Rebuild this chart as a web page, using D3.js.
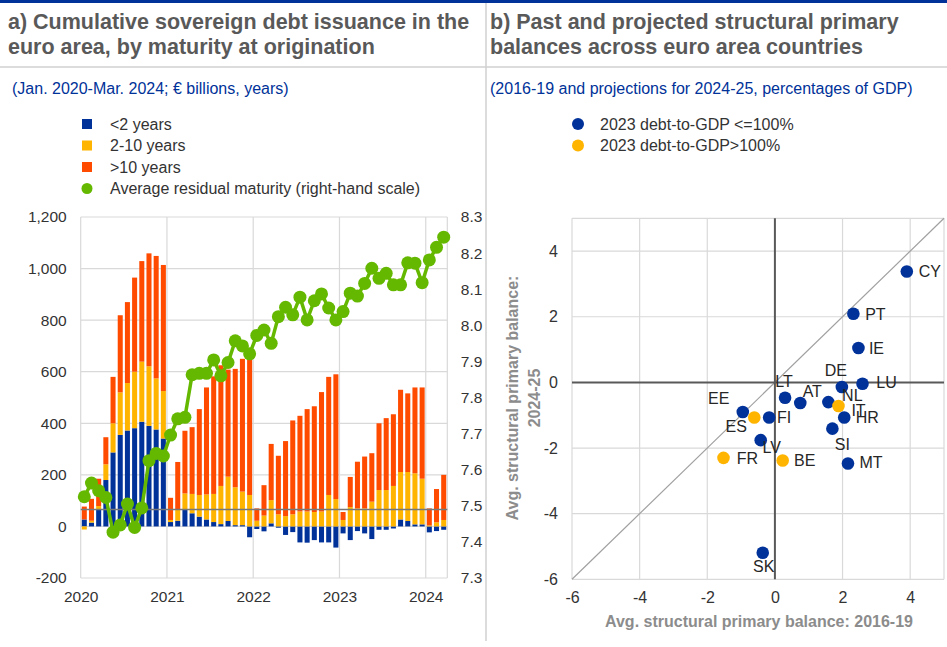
<!DOCTYPE html>
<html>
<head>
<meta charset="utf-8">
<script src="https://cdn.jsdelivr.net/npm/d3@7"></script>
<style>
body { margin: 0; background: #fff; }
text { font-family: "Liberation Sans", Arial, sans-serif; }
</style>
</head>
<body>
<svg id="chart" width="947" height="647"></svg>
<script>
// ---- panel a data (Jan 2020 - Mar 2024, monthly) ----
const yearLabels = ["2020", "2021", "2022", "2023", "2024"];
const months = d3.timeMonth.range(new Date(2020, 0, 1), new Date(2024, 3, 1));

const shortTerm = [27, 15, 66, 180, 287, 355, 372, 381, 406, 390, 376, 341,
                   17, 22, 64, 51, 38, 27, 17, 9, 21, 5, 5, -42,
                   -10, -19, 12, -5, -33, -22, -62, -63, -53, -62, -62, -82,
                   -27, -53, -18, -27, -49, -13, -13, -8, 27, 21, 8, 8,
                   -23, -18, -13];
const midTerm = [-12, 7, 13, 61, 113, 165, 184, 219, 233, 231, 198, 184,
                 8, 42, 64, 75, 84, 97, 109, 148, 172, 147, 130, 122,
                 22, 42, 90, 47, 40, 47, 58, 58, 56, 58, 122, 106,
                 25, 75, 70, 70, 96, 141, 141, 157, 184, 190, 198, 177,
                 4, 16, 25];
const longTerm = [50, 85, 106, 105, 180, 299, 314, 365, 390, 438, 475, 489,
                  86, 186, 243, 259, 333, 415, 456, 468, 415, 459, 515, 528,
                  48, 118, 218, 227, 291, 364, 371, 397, 410, 463, 458, 484,
                  31, 117, 181, 201, 188, 259, 279, 278, 319, 305, 333, 354,
                  66, 129, 175];
const avgMaturity = [7.525, 7.563, 7.542, 7.523, 7.427, 7.447, 7.505, 7.440, 7.494, 7.625, 7.645, 7.638,
                     7.696, 7.741, 7.745, 7.863, 7.867, 7.867, 7.904, 7.860, 7.897, 7.957, 7.943, 7.921,
                     7.972, 7.987, 7.950, 8.024, 8.050, 8.029, 8.078, 8.015, 8.068, 8.087, 8.048, 8.015,
                     8.038, 8.089, 8.081, 8.116, 8.158, 8.130, 8.144, 8.112, 8.112, 8.173, 8.172, 8.118,
                     8.181, 8.216, 8.244];
const refMaturity = 7.49;
const leftTicks = [-200, 0, 200, 400, 600, 800, 1000, 1200];
const rightTicks = [7.3, 7.4, 7.5, 7.6, 7.7, 7.8, 7.9, 8.0, 8.1, 8.2, 8.3];
const seriesNames = ["<2 years", "2-10 years", ">10 years", "Average residual maturity (right-hand scale)"];

// ---- panel b data ----
const countries = ["CY", "PT", "IE", "LU", "DE", "LT", "AT", "NL", "IT", "HR", "SI", "MT", "EE", "ES", "FI", "LV", "FR", "BE", "SK"];
const balance1619 = [3.90, 2.32, 2.47, 2.59, 1.98, 0.30, 0.75, 1.58, 1.88, 2.05, 1.70, 2.16, -0.95, -0.61, -0.17, -0.42, -1.52, 0.23, -0.36];
const balance2425 = [3.38, 2.09, 1.05, -0.04, -0.14, -0.47, -0.63, -0.60, -0.72, -1.07, -1.41, -2.47, -0.90, -1.07, -1.07, -1.76, -2.30, -2.38, -5.19];
const highDebt = ["IT", "ES", "FR", "BE"];
const scatterTicks = [-6, -4, -2, 0, 2, 4];
const debtGroups = ["2023 debt-to-GDP <=100%", "2023 debt-to-GDP>100%"];

// colours
const blue = "#003299", yellow = "#FFB400", orange = "#FF4B00", green = "#65B800";
const gridCol = "#d9d9d9", tickCol = "#333333";

const svg = d3.select("#chart");

// frame: top bar, separators
svg.append("rect").attr("x", 0).attr("y", 0).attr("width", 947).attr("height", 3).attr("fill", blue);
svg.append("line").attr("x1", 0).attr("x2", 947).attr("y1", 67).attr("y2", 67)
    .attr("stroke", "#d0d0d0").attr("stroke-width", 1.5);
svg.append("line").attr("x1", 486).attr("x2", 486).attr("y1", 3).attr("y2", 641)
    .attr("stroke", "#d0d0d0").attr("stroke-width", 1.5);

function title(x, lines) {
    lines.forEach(function(t, i) {
        svg.append("text").attr("x", x).attr("y", 29 + i * 25)
            .attr("font-size", 21.5).attr("font-weight", "bold").attr("fill", "#595959").text(t);
    });
}
title(8, ["a) Cumulative sovereign debt issuance in the", "euro area, by maturity at origination"]);
title(490, ["b) Past and projected structural primary", "balances across euro area countries"]);

svg.append("text").attr("x", 12).attr("y", 94).attr("font-size", 16).attr("fill", blue)
    .text("(Jan. 2020-Mar. 2024; \u20ac billions, years)");
svg.append("text").attr("x", 490).attr("y", 94).attr("font-size", 16).attr("fill", blue)
    .text("(2016-19 and projections for 2024-25, percentages of GDP)");

// ================= panel a =================
const L = {left: 80.7, right: 447.3, top: 217, bottom: 578};
const x = d3.scaleBand().domain(d3.range(months.length)).range([L.left, L.right])
    .paddingInner(0.3).paddingOuter(0.15);
const xIdx = d3.scaleLinear().domain([0, months.length]).range([L.left, L.right]);
const yL = d3.scaleLinear().domain([-200, 1200]).range([L.bottom, L.top]);
const yR = d3.scaleLinear().domain([7.3, 8.3]).range([L.bottom, L.top]);
const yearStarts = d3.range(months.length).filter(i => months[i].getMonth() === 0);

const gA = svg.append("g");
// grid
gA.append("g").selectAll("line").data(leftTicks).join("line")
    .attr("x1", L.left).attr("x2", L.right).attr("y1", d => yL(d)).attr("y2", d => yL(d))
    .attr("stroke", gridCol).attr("stroke-width", 1.2);
gA.append("g").selectAll("line").data(yearStarts.concat([months.length])).join("line")
    .attr("x1", d => xIdx(d)).attr("x2", d => xIdx(d)).attr("y1", L.top).attr("y2", L.bottom)
    .attr("stroke", gridCol).attr("stroke-width", 1.2);

// stacked bars
const rows = months.map((m, i) => ({short: shortTerm[i], mid: midTerm[i], long: longTerm[i]}));
const stack = d3.stack().keys(["short", "mid", "long"]).offset(d3.stackOffsetDiverging)(rows);
const barCols = {short: blue, mid: yellow, long: orange};
gA.append("g").selectAll("g").data(stack).join("g")
    .attr("fill", d => barCols[d.key])
    .selectAll("rect").data(d => d).join("rect")
    .attr("x", (d, i) => x(i))
    .attr("width", x.bandwidth())
    .attr("y", d => yL(Math.max(d[0], d[1])))
    .attr("height", d => Math.abs(yL(d[0]) - yL(d[1])));

// reference line
gA.append("line").attr("x1", L.left).attr("x2", L.right)
    .attr("y1", yR(refMaturity)).attr("y2", yR(refMaturity))
    .attr("stroke", "#777").attr("stroke-width", 1.5);

// maturity line
const line = d3.line().x((d, i) => x(i) + x.bandwidth() / 2).y(d => yR(d));
gA.append("path").datum(avgMaturity).attr("d", line)
    .attr("fill", "none").attr("stroke", green).attr("stroke-width", 3.5);
gA.append("g").selectAll("circle").data(avgMaturity).join("circle")
    .attr("cx", (d, i) => x(i) + x.bandwidth() / 2).attr("cy", d => yR(d)).attr("r", 6.5)
    .attr("fill", green);

// axes
const axL = gA.append("g").attr("transform", `translate(${L.left},0)`)
    .call(d3.axisLeft(yL).tickValues(leftTicks).tickSize(0).tickPadding(14)
        .tickFormat(d => d3.format(",")(d).replace("\u2212", "-")));
const axR = gA.append("g").attr("transform", `translate(${L.right},0)`)
    .call(d3.axisRight(yR).tickValues(rightTicks).tickSize(0).tickPadding(13.5)
        .tickFormat(d3.format(".1f")));
const axB = gA.append("g").attr("transform", `translate(0,${L.bottom})`)
    .call(d3.axisBottom(xIdx).tickValues(yearStarts).tickSize(0).tickPadding(13)
        .tickFormat((d, i) => yearLabels[i]));
[axL, axR, axB].forEach(a => {
    a.select(".domain").remove();
    a.selectAll("text").attr("font-size", 15.5).attr("fill", tickCol)
        .style("font-family", "'Liberation Sans', Arial, sans-serif");
});

// legend a
const legA = svg.append("g");
const legCols = [blue, yellow, orange, green];
seriesNames.forEach(function(name, i) {
    const cy = 124 + i * 21.5;
    if (i < 3) {
        legA.append("rect").attr("x", 82).attr("y", cy - 5).attr("width", 10).attr("height", 10).attr("fill", legCols[i]);
    } else {
        legA.append("circle").attr("cx", 87).attr("cy", cy).attr("r", 5.5).attr("fill", legCols[i]);
    }
    legA.append("text").attr("x", 110).attr("y", cy + 5.5).attr("font-size", 16).attr("fill", tickCol).text(name);
});

// ================= panel b =================
const R = {left: 572, right: 944, top: 218.3, bottom: 579.3};
const xs = d3.scaleLinear().domain([-6, 5]).range([R.left, R.right]);
const ys = d3.scaleLinear().domain([-6, 5]).range([R.bottom, R.top]);
const gB = svg.append("g");

const gridVals = scatterTicks.concat([5]).filter(d => d !== 0);
gB.append("g").selectAll("line").data(gridVals).join("line")
    .attr("x1", d => xs(d)).attr("x2", d => xs(d)).attr("y1", R.top).attr("y2", R.bottom)
    .attr("stroke", gridCol).attr("stroke-width", 1.2);
gB.append("g").selectAll("line").data(gridVals).join("line")
    .attr("x1", R.left).attr("x2", R.right).attr("y1", d => ys(d)).attr("y2", d => ys(d))
    .attr("stroke", gridCol).attr("stroke-width", 1.2);

// 45 degree line
gB.append("line").attr("x1", xs(-6)).attr("y1", ys(-6)).attr("x2", xs(5)).attr("y2", ys(5))
    .attr("stroke", "#a0a0a0").attr("stroke-width", 1.2);
// zero axes
gB.append("line").attr("x1", xs(0)).attr("x2", xs(0)).attr("y1", R.top).attr("y2", R.bottom)
    .attr("stroke", "#595959").attr("stroke-width", 2);
gB.append("line").attr("x1", R.left).attr("x2", R.right).attr("y1", ys(0)).attr("y2", ys(0))
    .attr("stroke", "#595959").attr("stroke-width", 2);

const pts = countries.map((c, i) => ({c: c, x: balance1619[i], y: balance2425[i], high: highDebt.includes(c)}));
gB.append("g").selectAll("circle").data(pts).join("circle")
    .attr("cx", d => xs(d.x)).attr("cy", d => ys(d.y)).attr("r", 6.3)
    .attr("fill", d => d.high ? yellow : blue);

// label placement (offset of label centre from marker, px)
const labelOffset = {CY: [23, 0], PT: [22, 0], IE: [18, 0], LU: [24, -1], DE: [-6, -17], LT: [-1, -17],
    AT: [12, -12], NL: [24, -7], IT: [20, 4], HR: [23, 0], SI: [10, 16], MT: [23, -1], EE: [-24, -14],
    ES: [-18, 9], FI: [15, 0], LV: [11, 7], FR: [24, 0], BE: [22, 0], SK: [1, 14]};
gB.append("g").selectAll("text").data(pts).join("text")
    .attr("x", d => xs(d.x) + labelOffset[d.c][0])
    .attr("y", d => ys(d.y) + labelOffset[d.c][1])
    .attr("dy", "0.36em").attr("text-anchor", "middle")
    .attr("font-size", 16).attr("fill", "#262626").text(d => d.c);

const axSX = gB.append("g").attr("transform", `translate(0,${R.bottom})`)
    .call(d3.axisBottom(xs).tickValues(scatterTicks).tickSize(0).tickPadding(12)
        .tickFormat(d => String(d)));
const axSY = gB.append("g").attr("transform", `translate(${R.left},0)`)
    .call(d3.axisLeft(ys).tickValues(scatterTicks).tickSize(0).tickPadding(14)
        .tickFormat(d => String(d)));
[axSX, axSY].forEach(a => {
    a.select(".domain").remove();
    a.selectAll("text").attr("font-size", 16).attr("fill", tickCol)
        .style("font-family", "'Liberation Sans', Arial, sans-serif");
});

gB.append("text").attr("x", 759).attr("y", 627).attr("text-anchor", "middle")
    .attr("font-size", 16).attr("font-weight", "bold").attr("fill", "#8c8c8c")
    .text("Avg. structural primary balance: 2016-19");
const yt = gB.append("text").attr("transform", "translate(0,398) rotate(-90)")
    .attr("text-anchor", "middle").attr("font-size", 16).attr("font-weight", "bold").attr("fill", "#8c8c8c");
yt.append("tspan").attr("x", 0).attr("y", 518).text("Avg. structural primary balance:");
yt.append("tspan").attr("x", 0).attr("y", 540).text("2024-25");

// legend b
debtGroups.forEach(function(name, i) {
    const cy = 124 + i * 21.5;
    svg.append("circle").attr("cx", 578).attr("cy", cy).attr("r", 6).attr("fill", i === 0 ? blue : yellow);
    svg.append("text").attr("x", 600).attr("y", cy + 5.5).attr("font-size", 16).attr("fill", tickCol).text(name);
});
</script>
</body>
</html>
